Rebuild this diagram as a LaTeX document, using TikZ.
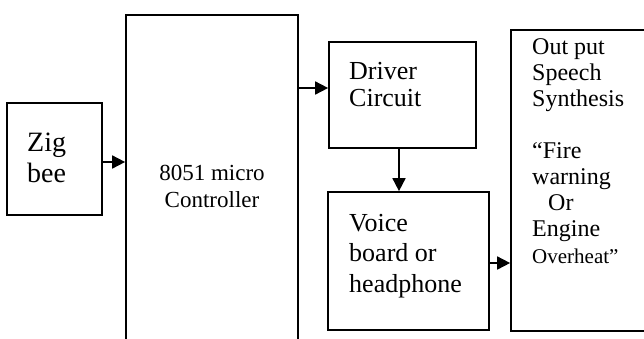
\documentclass[tikz,border=0pt]{standalone}
\usepackage{fontspec}
\setmainfont{Liberation Serif}
\usetikzlibrary{arrows.meta}
\tikzset{
  blk/.style={draw, line width=1.7pt, minimum width=#1, inner sep=0pt},
  lbl/.style={anchor=base west, inner sep=0pt, align=left},
  arr/.style={line width=1.7pt, -{Triangle[length=13pt,width=13pt]}},
}
\begin{document}
\begin{tikzpicture}[x=1pt, y=-1pt]
  \useasboundingbox (0,0) rectangle (644,338);
  \clip (0,0) rectangle (644,338);

  % blocks
  \node[blk=95pt, minimum height=112pt] (zig) at (54.5,159) {};
  \node[blk=172pt, minimum height=340pt] (mcu) at (212,185) {};
  \node[blk=147pt, minimum height=106pt] (drv) at (402.5,95) {};
  \node[blk=161pt, minimum height=138pt] (voice) at (408.5,261) {};
  \node[blk=150pt, minimum height=301pt] (out) at (586,180.5) {};

  % labels (anchored at the baseline of their last line)
  \node[lbl, font=\fontsize{28}{31}\selectfont] at (27,182) {Zig\\bee};
  \node[anchor=base, inner sep=0pt, align=center, font=\fontsize{23}{27}\selectfont]
    at (212,207) {8051 micro\\Controller};
  \node[lbl, font=\fontsize{26}{27}\selectfont] at (349,106) {Driver\\Circuit};
  \node[lbl, font=\fontsize{26}{30.5}\selectfont] at (349,292) {Voice\\board or\\headphone};
  \node[lbl, font=\fontsize{24}{26.1}\selectfont] at (532,263)
    {Out put\\Speech\\Synthesis\\~\\“Fire\\warning\\\hspace*{16pt}Or\\Engine\\{\fontsize{21}{26.1}\selectfont Overheat”}};

  % connections
  \draw[arr] ([yshift=-3pt]zig.east) -- ([yshift=-3pt]zig.east -| mcu.west);
  \draw[arr] ([yshift=7pt]drv.west -| mcu.east) -- ([yshift=7pt]drv.west);
  \draw[arr] ([xshift=-3.5pt]drv.south) -- ([xshift=-3.5pt]drv.south |- voice.north);
  \draw[arr] ([yshift=-2pt]voice.east) -- ([yshift=-2pt]voice.east -| out.west);
\end{tikzpicture}
\end{document}
